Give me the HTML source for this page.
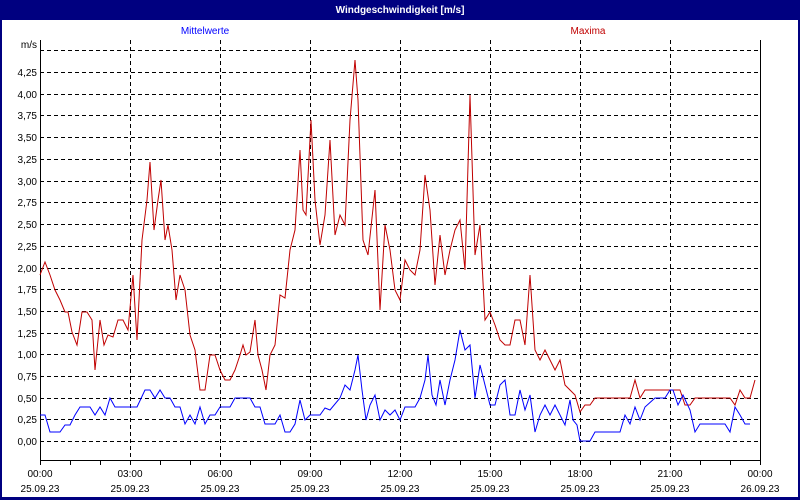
<!DOCTYPE html><html><head><style>body{margin:0;background:#fff}svg{display:block;font-family:"Liberation Sans",sans-serif;font-size:10px}</style></head><body>
<svg width="800" height="500" xmlns="http://www.w3.org/2000/svg">
<rect x="0" y="0" width="800" height="500" fill="#000080"/>
<rect x="2" y="20" width="796" height="477" fill="#fff"/>
<text x="400" y="13" fill="#fff" font-weight="bold" text-anchor="middle">Windgeschwindigkeit [m/s]</text>
<text x="205" y="34" fill="#0000ff" text-anchor="middle">Mittelwerte</text>
<text x="588" y="34" fill="#c00000" text-anchor="middle">Maxima</text>
<g stroke="#000" stroke-dasharray="4,3" stroke-width="1">
<line x1="40" x2="760" y1="50.5" y2="50.5"/><line x1="40" x2="760" y1="72.5" y2="72.5"/><line x1="40" x2="760" y1="94.5" y2="94.5"/><line x1="40" x2="760" y1="115.5" y2="115.5"/><line x1="40" x2="760" y1="137.5" y2="137.5"/><line x1="40" x2="760" y1="159.5" y2="159.5"/><line x1="40" x2="760" y1="181.5" y2="181.5"/><line x1="40" x2="760" y1="202.5" y2="202.5"/><line x1="40" x2="760" y1="224.5" y2="224.5"/><line x1="40" x2="760" y1="246.5" y2="246.5"/><line x1="40" x2="760" y1="268.5" y2="268.5"/><line x1="40" x2="760" y1="289.5" y2="289.5"/><line x1="40" x2="760" y1="311.5" y2="311.5"/><line x1="40" x2="760" y1="333.5" y2="333.5"/><line x1="40" x2="760" y1="354.5" y2="354.5"/><line x1="40" x2="760" y1="376.5" y2="376.5"/><line x1="40" x2="760" y1="398.5" y2="398.5"/><line x1="40" x2="760" y1="419.5" y2="419.5"/><line x1="40" x2="760" y1="441.5" y2="441.5"/>
<line y1="40" y2="460" x1="130.5" x2="130.5"/><line y1="40" y2="460" x1="220.5" x2="220.5"/><line y1="40" y2="460" x1="310.5" x2="310.5"/><line y1="40" y2="460" x1="400.5" x2="400.5"/><line y1="40" y2="460" x1="490.5" x2="490.5"/><line y1="40" y2="460" x1="580.5" x2="580.5"/><line y1="40" y2="460" x1="670.5" x2="670.5"/>
</g>
<path d="M40.5 40V460.5H760.5V40" fill="none" stroke="#000"/>
<g stroke="#000"><line x1="70.5" x2="70.5" y1="460" y2="465"/><line x1="100.5" x2="100.5" y1="460" y2="465"/><line x1="130.5" x2="130.5" y1="460" y2="465"/><line x1="160.5" x2="160.5" y1="460" y2="465"/><line x1="190.5" x2="190.5" y1="460" y2="465"/><line x1="220.5" x2="220.5" y1="460" y2="465"/><line x1="250.5" x2="250.5" y1="460" y2="465"/><line x1="280.5" x2="280.5" y1="460" y2="465"/><line x1="310.5" x2="310.5" y1="460" y2="465"/><line x1="340.5" x2="340.5" y1="460" y2="465"/><line x1="370.5" x2="370.5" y1="460" y2="465"/><line x1="400.5" x2="400.5" y1="460" y2="465"/><line x1="430.5" x2="430.5" y1="460" y2="465"/><line x1="460.5" x2="460.5" y1="460" y2="465"/><line x1="490.5" x2="490.5" y1="460" y2="465"/><line x1="520.5" x2="520.5" y1="460" y2="465"/><line x1="550.5" x2="550.5" y1="460" y2="465"/><line x1="580.5" x2="580.5" y1="460" y2="465"/><line x1="610.5" x2="610.5" y1="460" y2="465"/><line x1="640.5" x2="640.5" y1="460" y2="465"/><line x1="670.5" x2="670.5" y1="460" y2="465"/><line x1="700.5" x2="700.5" y1="460" y2="465"/><line x1="730.5" x2="730.5" y1="460" y2="465"/><line x1="40.5" x2="40.5" y1="460" y2="465"/><line x1="760.5" x2="760.5" y1="460" y2="465"/></g>
<g text-anchor="end" fill="#000">
<text x="37" y="48">m/s</text><text x="37" y="76">4,25</text><text x="37" y="98">4,00</text><text x="37" y="119">3,75</text><text x="37" y="141">3,50</text><text x="37" y="163">3,25</text><text x="37" y="185">3,00</text><text x="37" y="206">2,75</text><text x="37" y="228">2,50</text><text x="37" y="250">2,25</text><text x="37" y="272">2,00</text><text x="37" y="293">1,75</text><text x="37" y="315">1,50</text><text x="37" y="337">1,25</text><text x="37" y="358">1,00</text><text x="37" y="380">0,75</text><text x="37" y="402">0,50</text><text x="37" y="423">0,25</text><text x="37" y="445">0,00</text></g>
<g text-anchor="middle" fill="#000">
<text x="40" y="477">00:00</text><text x="130" y="477">03:00</text><text x="220" y="477">06:00</text><text x="310" y="477">09:00</text><text x="400" y="477">12:00</text><text x="490" y="477">15:00</text><text x="580" y="477">18:00</text><text x="670" y="477">21:00</text><text x="760" y="477">00:00</text>
<text x="40" y="492">25.09.23</text><text x="130" y="492">25.09.23</text><text x="220" y="492">25.09.23</text><text x="310" y="492">25.09.23</text><text x="400" y="492">25.09.23</text><text x="490" y="492">25.09.23</text><text x="580" y="492">25.09.23</text><text x="670" y="492">25.09.23</text><text x="760" y="492">26.09.23</text></g>
<polyline fill="none" stroke="#c00000" points="40,275 45,262 50,275 55,290 60,300 65,312 68,312 72,332 77,345 82,312 87,312 92,320 95,370 100,320 104,345 108,335 113,337 118,320 123,320 128,330 133,275 137,340 142,240 147,200 150,162 154,230 158,200 161,180 165,240 168,225 172,250 176,300 180,275 185,290 190,335 195,350 200,390 205,390 210,355 215,355 220,370 225,380 230,380 235,370 240,355 243,345 246,355 250,352 255,320 258,355 262,370 266,390 270,355 275,345 280,295 285,298 290,250 295,230 300,150 303,210 306,215 311,120 315,200 320,245 325,215 330,140 335,235 340,215 345,225 350,120 355,60 358,100 363,240 368,255 375,190 380,310 385,225 390,250 395,290 400,300 405,260 410,270 415,275 420,250 425,175 430,210 435,285 440,235 445,275 450,250 455,230 460,220 465,270 470,95 475,255 480,225 485,320 490,312 495,325 500,340 505,345 510,345 515,320 520,320 525,345 530,275 535,350 540,360 545,350 550,360 555,370 560,360 565,385 570,390 575,395 580,412 585,405 590,405 595,398 630,398 635,380 640,398 645,390 680,390 685,405 690,405 695,398 730,398 735,405 740,390 745,398 750,398 755,380"/>
<polyline fill="none" stroke="#0000ff" points="40,415 45,415 50,432 60,432 65,425 70,425 75,415 80,407 90,407 95,415 100,407 105,415 110,398 115,407 137,407 145,390 150,390 155,398 160,390 165,398 170,398 175,407 180,407 185,424 190,415 195,424 200,407 205,424 210,415 215,415 220,407 230,407 235,398 250,398 255,407 260,407 265,424 275,424 280,415 285,432 290,432 295,424 300,400 305,420 310,415 320,415 325,408 330,410 340,398 345,385 350,390 355,370 358,355 362,390 366,420 370,405 375,395 380,420 385,410 390,415 395,410 400,420 405,407 415,407 420,398 425,380 428,355 432,395 436,405 440,380 445,405 450,380 455,360 460,330 465,350 470,345 475,398 480,365 485,385 490,405 495,405 500,385 505,380 510,415 515,415 520,390 525,410 530,395 535,432 540,415 545,405 550,415 555,405 560,415 565,425 570,400 573,420 577,425 580,441 590,441 595,432 620,432 625,415 630,424 635,407 640,420 645,407 655,398 665,398 670,390 673,390 678,405 683,395 690,410 695,432 700,424 725,424 730,432 735,407 740,415 745,424 750,424"/>
</svg></body></html>
